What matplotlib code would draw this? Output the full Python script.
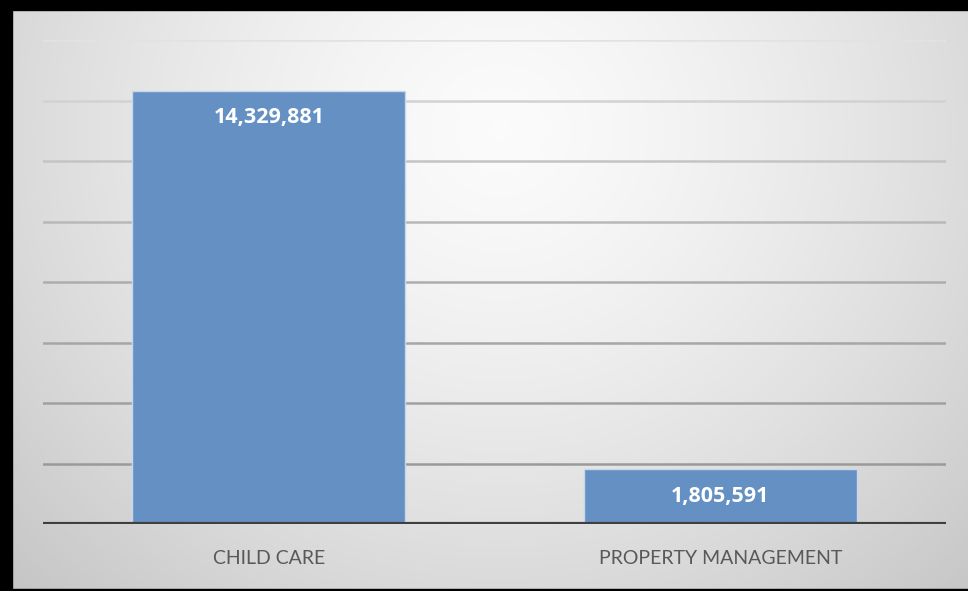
import numpy as np
import matplotlib.pyplot as plt
from matplotlib.patches import Rectangle

categories = ['CHILD CARE', 'PROPERTY MANAGEMENT']
values = [14329881, 1805591]
value_labels = ['14,329,881', '1,805,591']
grid_ticks = [2e6, 4e6, 6e6, 8e6, 10e6, 12e6, 14e6, 16e6]

W, H = 968, 591
fig = plt.figure(figsize=(W / 100, H / 100), dpi=100)

# soft radial background, brightest near the upper middle
bg = fig.add_axes([0, 0, 1, 1], zorder=-10)
yy, xx = np.mgrid[0:H, 0:W]
r = np.sqrt(((xx - 500) / 640.0) ** 2 + ((yy - 130) / 600.0) ** 2)
shade = np.clip(0.985 - 0.19 * r ** 1.4, 0.78, 1.0)
bg.imshow(np.dstack([shade] * 3), aspect='auto', extent=[0, 1, 0, 1], origin='upper')
bg.set_axis_off()

ax = fig.add_axes([43 / W, 1 - 524 / H, (946 - 43) / W, (524 - 40) / H])
ax.patch.set_alpha(0)
for s in ax.spines.values():
    s.set_visible(False)

x = np.arange(len(categories))
ax.set_xlim(-0.5, len(categories) - 0.5)
ax.set_ylim(0, 16e6)

# gridlines fade out towards the top
grid_cols = ['#9a9a9a', '#a0a0a0', '#a6a6a6', '#adadad', '#b8b8b8', '#c4c4c4', '#d2d2d2', '#e2e2e2']
for t, c in zip(grid_ticks, grid_cols):
    ax.axhline(t, color=c, lw=1.8, zorder=1)

bars = ax.bar(x, values, width=0.605, color='#6590c4', edgecolor='#c9d7ea', linewidth=1.0, zorder=2)
ax.axhline(0, color='#3f3f3f', lw=3, zorder=3)

for b, lab in zip(bars, value_labels):
    ax.annotate(lab, (b.get_x() + b.get_width() / 2, b.get_height()), xytext=(0, -19.5),
                textcoords='offset points', ha='center', va='center', color='white',
                fontsize=15.5, fontweight='bold', family='Open Sans', zorder=4)

ax.set_xticks(x)
ax.set_xticklabels(categories, fontsize=14, color='#595959', family='Lato')
ax.tick_params(axis='x', length=0, pad=19)
ax.set_yticks([])

# black frame on top, left and bottom
fig.patches.append(Rectangle((0, 1 - 10 / H), 1, 10 / H, transform=fig.transFigure, color='black', zorder=20))
fig.patches.append(Rectangle((0, 0), 12 / W, 1, transform=fig.transFigure, color='black', zorder=20))
fig.patches.append(Rectangle((0, 0), 1, 2.5 / H, transform=fig.transFigure, color='black', zorder=20))

fig.savefig('out.png', dpi=100)
